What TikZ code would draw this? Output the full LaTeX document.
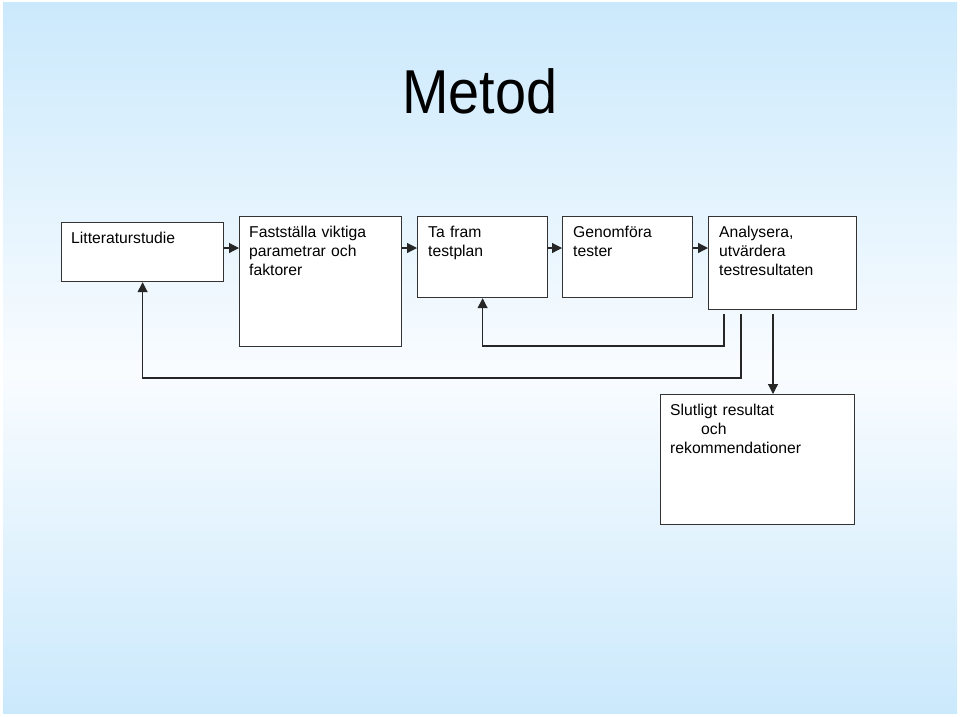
\documentclass[tikz,border=0pt]{standalone}
\usepackage{fontspec}
\setmainfont{Liberation Sans}
\usetikzlibrary{arrows.meta}

\definecolor{bgblue}{RGB}{203,233,252}
\definecolor{bglight}{RGB}{249,252,255}

\begin{document}
\begin{tikzpicture}[x=1pt, y=-1pt,
    box/.style={draw=black!80, line width=1.2pt, fill=white, anchor=north west, inner sep=0pt},
    txt/.style={anchor=base west, align=left, text width=150pt, inner sep=0pt, font=\fontsize{15.7}{19}\selectfont},
    arr/.style={draw=black!85, line width=1.2pt, -{Triangle[length=10pt,width=10pt]}}]
    \useasboundingbox (0,0) rectangle (960,716);
    % background
    \fill[white] (0,0) rectangle (960,716);
    \shade[top color=bgblue, bottom color=bglight] (3,2) rectangle (957,370);
    \shade[top color=bglight, bottom color=bgblue] (3,370) rectangle (957,713);

    \node[anchor=base] (title) at (480,113) {\fontsize{62}{70}\selectfont\scalebox{0.9}[1]{Metod}};

    % boxes
    \node[box, minimum width=162pt, minimum height=59pt] (lit) at (61,222) {};
    \node[box, minimum width=162pt, minimum height=130pt] (fast) at (239,216) {};
    \node[box, minimum width=130pt, minimum height=81pt] (plan) at (417,216) {};
    \node[box, minimum width=130pt, minimum height=81pt] (gen) at (562,216) {};
    \node[box, minimum width=148pt, minimum height=93pt] (ana) at (708,216) {};
    \node[box, minimum width=194pt, minimum height=130pt] (slut) at (660,394) {};

    % texts
    \node[txt] (littxt) at ([xshift=10pt,yshift=-21pt]lit.north west) {Litteraturstudie};
    \node[txt] (fasttxt) at ([xshift=10pt,yshift=-21pt]fast.north west) {Fastställa viktiga\\parametrar och\\faktorer};
    \node[txt] (plantxt) at ([xshift=11pt,yshift=-21pt]plan.north west) {Ta fram\\testplan};
    \node[txt] (gentxt) at ([xshift=11pt,yshift=-21pt]gen.north west) {Genomföra\\tester};
    \node[txt] (anatxt) at ([xshift=11pt,yshift=-21pt]ana.north west) {Analysera,\\utvärdera\\testresultaten};
    \node[txt] (sluttxt) at ([xshift=10pt,yshift=-21pt]slut.north west) {Slutligt resultat\\\hspace*{31pt}och\\rekommendationer};

    % flow
    \coordinate (row) at (0,248);
    \draw[arr] (lit.east |- row) -- (fast.west |- row);
    \draw[arr] (fast.east |- row) -- (plan.west |- row);
    \draw[arr] (plan.east |- row) -- (gen.west |- row);
    \draw[arr] (gen.east |- row) -- (ana.west |- row);

    % feedback
    \coordinate (fb1) at (724,314);
    \coordinate (fb2) at (741,314);
    \coordinate (fb3) at (773,314);
    \coordinate (low1) at (0,346);
    \coordinate (low2) at (0,378);
    \draw[arr] (fb1) -- (fb1 |- low1) -| (plan.south);
    \draw[arr] (fb2) -- (fb2 |- low2) -| (lit.south);
    \draw[arr] (fb3) -- (fb3 |- slut.north);
\end{tikzpicture}
\end{document}
